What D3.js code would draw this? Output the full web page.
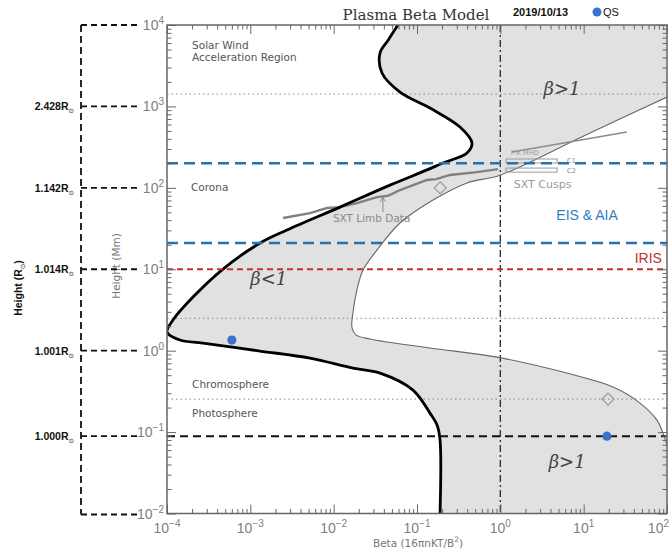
<!DOCTYPE html>
<html><head><meta charset="utf-8">
<script src="https://cdn.jsdelivr.net/npm/d3@7"></script>
<style>body{margin:0;background:#fff}</style>
</head><body>
<svg id="c" width="670" height="550" xmlns="http://www.w3.org/2000/svg"></svg>
<script>
// ---------- data ----------
const betaTickExps = [-4, -3, -2, -1, 0, 1, 2];
const heightTickExps = [-2, -1, 0, 1, 2, 3, 4];
const solarRadiusLabels = ["2.428R", "1.142R", "1.014R", "1.001R", "1.000R"];
const solarRadiusHeights = [1000, 100, 10, 1, 0.089];
const bracketHeights = [10000, 1000, 100, 10, 1, 0.089, 0.01];

// thick boundary curve
const thickBeta = [0.059, 0.045, 0.036, 0.038, 0.0625, 0.143, 0.328, 0.457, 0.398, 0.205, 0.132, 0.0474, 0.0119, 0.00275, 0.00131, 0.00047, 0.000205, 0.000118, 0.0001, 0.000143, 0.00027, 0.0013, 0.0052, 0.017, 0.036, 0.0895, 0.143, 0.174, 0.189, 0.189];
const thickHeight = [10000, 6500, 4530, 2570, 1500, 955, 558, 355, 268, 202, 166, 108, 58, 30.3, 21, 10.05, 4.55, 2.38, 1.69, 1.35, 1.24, 0.99, 0.81, 0.61, 0.53, 0.328, 0.171, 0.122, 0.080, 0.01];

// thin boundary curve
const thinBeta = [100, 10, 0.99, 0.398, 0.156, 0.0625, 0.0331, 0.0225, 0.019, 0.017, 0.0166, 0.0185, 0.0273, 0.143, 0.91, 5.65, 22.5, 47.4, 75.9, 89.5, 100];
const thinHeight = [1303, 434, 143, 115, 70.8, 37, 17.2, 9.77, 5.55, 2.9, 1.9, 1.56, 1.39, 1.08, 0.834, 0.546, 0.357, 0.227, 0.140, 0.097, 0.069];

// SXT limb data
const sxtBeta = [0.00247, 0.0052, 0.0083, 0.012, 0.019, 0.033, 0.045, 0.0625, 0.132, 0.17, 0.249, 0.525, 0.94];
const sxtHeight = [42.6, 49, 56.5, 58, 65, 77, 80, 94, 125, 128, 144, 156, 170];

// P-K MHD line
const pkBeta = [1.38, 33];
const pkHeight = [275, 485];

// SXT cusps boxes
const cuspNames = ["C1", "C2"];
const cuspBeta = [[1.17, 4.8], [1.17, 4.8]];
const cuspHeight = [[202, 226], [156, 175]];

// horizontal reference lines
const instrumentNames = ["EIS & AIA top", "EIS & AIA bottom", "IRIS"];
const instrumentHeights = [200, 21, 10];
const layerDotted = [1420, 2.5, 0.254];
const surfaceHeight = 0.089;

// QS points and diamonds
const qsBeta = [0.0006, 19];
const qsHeight = [1.35, 0.089];
const diamondBeta = [0.19, 19.6];
const diamondHeight = [100, 0.254];

// ---------- chart ----------
const svg = d3.select("#c");
const L = 167, R = 667, T = 25, B = 513.5;
const x = d3.scaleLog().domain([1e-4, 1e2]).range([L, R]);
const y = d3.scaleLog().domain([1e-2, 1e4]).range([B, T]);

svg.append("defs").append("clipPath").attr("id", "clip")
  .append("rect").attr("x", L).attr("y", T).attr("width", R - L).attr("height", B - T);

const plot = svg.append("g").attr("clip-path", "url(#clip)");
const curve = d3.curveCatmullRom.alpha(0.5);
const lineGen = d3.line().x(d => x(d[0])).y(d => y(d[1])).curve(curve);

const thick = thickBeta.map((b, i) => [b, thickHeight[i]]);
const thin = thinBeta.map((b, i) => [b, thinHeight[i]]);

// shaded region
const thickD = lineGen(thick);
const thinRevD = lineGen(thin.slice().reverse()).replace(/^M/, "L");
const areaD = thickD +
  "L" + x(100) + "," + y(0.01) +
  "L" + x(100) + "," + y(thinHeight[thinHeight.length - 1]) +
  thinRevD +
  "L" + x(100) + "," + y(1e4) + "Z";
plot.append("path").attr("d", areaD).attr("fill", "#e1e1e1").attr("stroke", "none");

// dotted layer lines
layerDotted.forEach(h => {
  plot.append("line").attr("x1", L).attr("x2", R).attr("y1", y(h)).attr("y2", y(h))
    .attr("stroke", "#8a8a8a").attr("stroke-width", 1).attr("stroke-dasharray", "1.5,3");
});

// beta = 1 dash-dot
plot.append("line").attr("x1", x(1)).attr("x2", x(1)).attr("y1", T).attr("y2", B)
  .attr("stroke", "#333").attr("stroke-width", 1.4).attr("stroke-dasharray", "7,3,2,3");

// thin curve
plot.append("path").attr("d", lineGen(thin)).attr("fill", "none")
  .attr("stroke", "#666").attr("stroke-width", 1.1);

// SXT limb data
plot.append("path").attr("d", d3.line().x(d => x(d[0])).y(d => y(d[1]))(sxtBeta.map((b, i) => [b, sxtHeight[i]])))
  .attr("fill", "none").attr("stroke", "#808080").attr("stroke-width", 2.4);

// P-K MHD
plot.append("line").attr("x1", x(pkBeta[0])).attr("y1", y(pkHeight[0]))
  .attr("x2", x(pkBeta[1])).attr("y2", y(pkHeight[1]))
  .attr("stroke", "#8c8c8c").attr("stroke-width", 1.6);

// cusps boxes
cuspNames.forEach((n, i) => {
  plot.append("rect").attr("x", x(cuspBeta[i][0])).attr("y", y(cuspHeight[i][1]))
    .attr("width", x(cuspBeta[i][1]) - x(cuspBeta[i][0]))
    .attr("height", y(cuspHeight[i][0]) - y(cuspHeight[i][1]))
    .attr("fill", "none").attr("stroke", "#999").attr("stroke-width", 1);
  svg.append("text").attr("x", x(cuspBeta[i][1]) + 10).attr("y", y(cuspHeight[i][0]) + (i === 0 ? 0 : 1))
    .attr("font-family", "DejaVu Sans").attr("font-size", 6.5).attr("fill", "#888").text(n);
});

// thick curve
plot.append("path").attr("d", thickD).attr("fill", "none")
  .attr("stroke", "#000").attr("stroke-width", 2.8);

// instrument lines
plot.append("line").attr("x1", L).attr("x2", R).attr("y1", y(instrumentHeights[0])).attr("y2", y(instrumentHeights[0]))
  .attr("stroke", "#2173b3").attr("stroke-width", 2.6).attr("stroke-dasharray", "11,6");
plot.append("line").attr("x1", L).attr("x2", R).attr("y1", y(instrumentHeights[1])).attr("y2", y(instrumentHeights[1]))
  .attr("stroke", "#2173b3").attr("stroke-width", 2.6).attr("stroke-dasharray", "11,6");
plot.append("line").attr("x1", L).attr("x2", R).attr("y1", y(instrumentHeights[2])).attr("y2", y(instrumentHeights[2]))
  .attr("stroke", "#c8302c").attr("stroke-width", 2).attr("stroke-dasharray", "6,4");

// surface (1.000 Rsun) dashed line
plot.append("line").attr("x1", L).attr("x2", R).attr("y1", y(surfaceHeight)).attr("y2", y(surfaceHeight))
  .attr("stroke", "#111").attr("stroke-width", 2).attr("stroke-dasharray", "8,5");

// diamonds
diamondBeta.forEach((b, i) => {
  const cx = x(b), cy = y(diamondHeight[i]), s = 6;
  plot.append("path").attr("d", `M${cx},${cy - s}L${cx + s},${cy}L${cx},${cy + s}L${cx - s},${cy}Z`)
    .attr("fill", "none").attr("stroke", "#999").attr("stroke-width", 1.2);
});

// QS dots
qsBeta.forEach((b, i) => {
  plot.append("circle").attr("cx", x(b)).attr("cy", y(qsHeight[i])).attr("r", 4.6).attr("fill", "#3a73c9");
});

// SXT limb arrow
const ax = x(0.039);
svg.append("line").attr("x1", ax).attr("x2", ax).attr("y1", y(50.5)).attr("y2", y(76))
  .attr("stroke", "#888").attr("stroke-width", 1);
svg.append("path").attr("d", `M${ax - 2.5},${y(76) + 4}L${ax},${y(76)}L${ax + 2.5},${y(76) + 4}`)
  .attr("fill", "none").attr("stroke", "#888").attr("stroke-width", 1);

// ---------- axes (inward ticks) ----------
const minorX = [], minorY = [];
for (let e = -4; e < 2; e++) for (let k = 2; k <= 9; k++) minorX.push(k * Math.pow(10, e));
for (let e = -2; e < 4; e++) for (let k = 2; k <= 9; k++) minorY.push(k * Math.pow(10, e));
const majX = betaTickExps.map(e => Math.pow(10, e));
const majY = heightTickExps.map(e => Math.pow(10, e));

function styleAxis(g) {
  g.select(".domain").remove();
  g.selectAll("line").attr("stroke", "#666").attr("stroke-width", 1);
  g.selectAll("text").remove();
}
svg.append("g").attr("transform", `translate(0,${B})`).call(d3.axisBottom(x).tickValues(minorX).tickSize(-4.5).tickFormat("")).call(styleAxis);
svg.append("g").attr("transform", `translate(0,${B})`).call(d3.axisBottom(x).tickValues(majX).tickSize(-9).tickFormat("")).call(styleAxis);
svg.append("g").attr("transform", `translate(0,${T})`).call(d3.axisTop(x).tickValues(minorX).tickSize(-4.5).tickFormat("")).call(styleAxis);
svg.append("g").attr("transform", `translate(0,${T})`).call(d3.axisTop(x).tickValues(majX).tickSize(-9).tickFormat("")).call(styleAxis);
svg.append("g").attr("transform", `translate(${L},0)`).call(d3.axisLeft(y).tickValues(minorY).tickSize(-4.5).tickFormat("")).call(styleAxis);
svg.append("g").attr("transform", `translate(${L},0)`).call(d3.axisLeft(y).tickValues(majY).tickSize(-9).tickFormat("")).call(styleAxis);
svg.append("g").attr("transform", `translate(${R},0)`).call(d3.axisRight(y).tickValues(minorY).tickSize(-4.5).tickFormat("")).call(styleAxis);
svg.append("g").attr("transform", `translate(${R},0)`).call(d3.axisRight(y).tickValues(majY).tickSize(-9).tickFormat("")).call(styleAxis);

svg.append("rect").attr("x", L).attr("y", T).attr("width", R - L).attr("height", B - T)
  .attr("fill", "none").attr("stroke", "#666").attr("stroke-width", 1.5);

// tick labels
function powLabel(sel, e) {
  sel.append("tspan").text("10");
  sel.append("tspan").attr("dy", -6).attr("font-size", 10).text(e < 0 ? "\u2212" + (-e) : String(e));
}
betaTickExps.forEach(e => {
  const last = e === betaTickExps[betaTickExps.length - 1];
  const t = svg.append("text").attr("x", last ? 669 : x(Math.pow(10, e))).attr("y", 533)
    .attr("text-anchor", last ? "end" : "middle").attr("font-family", "Liberation Sans, Arial").attr("font-size", 14)
    .attr("fill", "#808080");
  powLabel(t, e);
});
heightTickExps.forEach(e => {
  const t = svg.append("text").attr("x", 164).attr("y", y(Math.pow(10, e)) + 5)
    .attr("text-anchor", "end").attr("font-family", "Liberation Sans, Arial").attr("font-size", 14)
    .attr("fill", "#808080");
  powLabel(t, e);
});

// axis titles
const xt = svg.append("text").attr("x", 418).attr("y", 547).attr("text-anchor", "middle")
  .attr("font-family", "DejaVu Sans").attr("font-size", 10.5).attr("fill", "#777");
xt.append("tspan").text("Beta (16\u03c0nKT/B");
xt.append("tspan").attr("dy", -5).attr("font-size", 7.5).text("2");
xt.append("tspan").attr("dy", 5).text(")");

svg.append("text").attr("transform", "translate(120,266) rotate(-90)").attr("text-anchor", "middle")
  .attr("font-family", "DejaVu Sans").attr("font-size", 10.5).attr("fill", "#777").text("Height (Mm)");

// left bracket in solar radii
const BX = 81, BX2 = 139;
svg.append("line").attr("x1", BX).attr("x2", BX).attr("y1", y(1e4)).attr("y2", y(0.01) + 1)
  .attr("stroke", "#111").attr("stroke-width", 1.8).attr("stroke-dasharray", "7,4");
bracketHeights.forEach(h => {
  svg.append("line").attr("x1", BX).attr("x2", BX2).attr("y1", y(h) + (h === 0.01 ? 1 : 0)).attr("y2", y(h) + (h === 0.01 ? 1 : 0))
    .attr("stroke", "#111").attr("stroke-width", 1.8).attr("stroke-dasharray", "6,4");
});
function sunSub(t) {
  t.append("tspan").attr("dy", 3).attr("font-size", 6.5).attr("font-family", "DejaVu Sans")
    .attr("font-weight", "normal").text("\u2299");
}
solarRadiusLabels.forEach((s, i) => {
  const t = svg.append("text").attr("x", 74).attr("y", y(solarRadiusHeights[i]) + 4)
    .attr("text-anchor", "end").attr("font-family", "Liberation Sans, Arial").attr("font-weight", "bold")
    .attr("font-size", 10.5).attr("fill", "#111");
  t.append("tspan").text(s);
  sunSub(t);
});
const yt = svg.append("text").attr("transform", "translate(22,288) rotate(-90)").attr("text-anchor", "middle")
  .attr("font-family", "Liberation Sans, Arial").attr("font-weight", "bold").attr("font-size", 10.5).attr("fill", "#111");
yt.append("tspan").text("Height (R");
sunSub(yt);
yt.append("tspan").attr("dy", -3).text(")");

// region labels
function lab(txt, bx, hy, opts) {
  const o = Object.assign({ size: 10.5, fill: "#555", family: "DejaVu Sans", anchor: "start" }, opts || {});
  return svg.append("text").attr("x", x(bx)).attr("y", y(hy)).attr("text-anchor", o.anchor)
    .attr("font-family", o.family).attr("font-size", o.size).attr("fill", o.fill).text(txt);
}
lab("Solar Wind", 2.0e-4, 5070);
lab("Acceleration Region", 2.0e-4, 3610);
lab("Corona", 1.94e-4, 92);
lab("Chromosphere", 2.0e-4, 0.35);
lab("Photosphere", 2.0e-4, 0.152);
lab("SXT Limb Data", 0.0098, 38, { fill: "#8a8a8a", size: 10.5 });
lab("SXT Cusps", 1.45, 99, { fill: "#999", size: 11 });
lab("P-K MHD", 1.33, 255, { fill: "#999", size: 6.5 });
lab("EIS & AIA", 4.7, 40, { fill: "#2f7fbf", size: 14, family: "Liberation Sans, Arial" });
lab("IRIS", 41, 11.9, { fill: "#c4302b", size: 14, family: "Liberation Sans, Arial" });
lab("\u03b2<1", 0.001, 6.4, { fill: "#444", size: 18, family: "DejaVu Serif" }).attr("font-style", "italic");
lab("\u03b2>1", 3.3, 1380, { fill: "#444", size: 18, family: "DejaVu Serif" }).attr("font-style", "italic");
lab("\u03b2>1", 3.8, 0.036, { fill: "#444", size: 18, family: "DejaVu Serif" }).attr("font-style", "italic");

// title and legend
svg.append("text").attr("x", 416).attr("y", 20).attr("text-anchor", "middle")
  .attr("font-family", "DejaVu Serif").attr("font-size", 15).attr("fill", "#333").text("Plasma Beta Model");
svg.append("text").attr("x", 513).attr("y", 16).attr("font-family", "Liberation Sans, Arial").attr("font-weight", "bold")
  .attr("font-size", 11).attr("fill", "#111").text("2019/10/13");
svg.append("circle").attr("cx", 597).attr("cy", 12).attr("r", 4.5).attr("fill", "#3a73c9");
svg.append("text").attr("x", 603).attr("y", 16).attr("font-family", "Liberation Sans, Arial")
  .attr("font-size", 11).attr("fill", "#111").text("QS");
</script>
</body></html>
